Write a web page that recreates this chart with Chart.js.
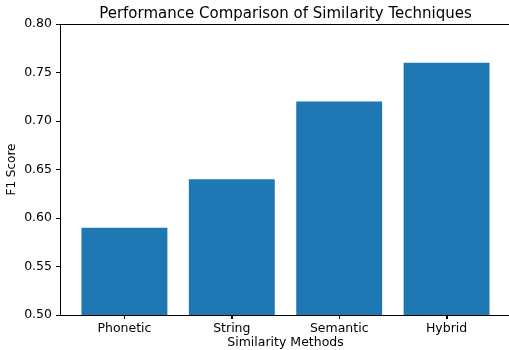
<!DOCTYPE html>
<html>
<head>
<meta charset="utf-8">
<script src="https://cdn.jsdelivr.net/npm/chart.js@4"></script>
<style>
  html, body { margin: 0; padding: 0; background: #fff; overflow: hidden; }
  #wrap { width: 512px; height: 350px; }
</style>
</head>
<body>
<div id="wrap"><canvas id="chart"></canvas></div>
<script>
// Données du graphique
const methods = ['Phonetic', 'String', 'Semantic', 'Hybrid'];
const f1Scores = [0.59, 0.64, 0.72, 0.76];
const yTicks = [0.50, 0.55, 0.60, 0.65, 0.70, 0.75, 0.80];

const FONT = "'DejaVu Sans', sans-serif";

// Cadre façon matplotlib (axe du haut, graduations x) + titre centré sur la zone de tracé
const framePlugin = {
    id: 'frame',
    afterDraw(chart) {
        const { ctx, chartArea: a } = chart;
        const xScale = chart.scales.x;
        ctx.save();
        ctx.strokeStyle = '#000';
        ctx.lineWidth = 1;
        ctx.beginPath();
        ctx.moveTo(a.left, a.top + 0.5);
        ctx.lineTo(a.right, a.top + 0.5);
        ctx.stroke();
        ctx.fillStyle = '#000';
        methods.forEach((m, i) => {
            const px = Math.round(xScale.getPixelForValue(i));
            ctx.fillRect(px, a.bottom, 1, 4);
        });
        ctx.font = '15px ' + FONT;
        ctx.textAlign = 'center';
        ctx.textBaseline = 'alphabetic';
        ctx.fillText('Performance Comparison of Similarity Techniques', (a.left + a.right) / 2, a.top - 6);
        ctx.restore();
    }
};

new Chart(document.getElementById('chart'), {
    type: 'bar',
    data: {
        datasets: [{
            data: f1Scores.map((v, i) => ({ x: i, y: v })),
            backgroundColor: '#1f77b4',
            borderWidth: 0,
            categoryPercentage: 0.8,
            barPercentage: 1.0
        }]
    },
    options: {
        responsive: true,
        maintainAspectRatio: false,
        animation: false,
        layout: { padding: { top: 24, right: 1, left: 0, bottom: 0 } },
        plugins: {
            legend: { display: false },
            tooltip: { enabled: false }
        },
        scales: {
            x: {
                type: 'linear',
                offset: false,
                min: -0.6,
                max: 3.6,
                afterBuildTicks: (scale) => {
                    scale.ticks = methods.map((m, i) => ({ value: i }));
                },
                afterFit: (scale) => { scale.height = 35; },
                grid: { offset: false, drawOnChartArea: false, tickLength: 4, tickColor: '#000' },
                border: { color: '#000', width: 1 },
                ticks: {
                    callback: (v) => methods[v] ?? '',
                    color: '#000',
                    font: { family: FONT, size: 12.5 },
                    padding: 2,
                    maxRotation: 0
                },
                title: {
                    display: true,
                    text: 'Similarity Methods',
                    color: '#000',
                    font: { family: FONT, size: 12.5 },
                    padding: { top: 0, bottom: 0 }
                }
            },
            y: {
                min: 0.5,
                max: 0.8,
                afterBuildTicks: (scale) => {
                    scale.ticks = yTicks.map(v => ({ value: v }));
                },
                afterFit: (scale) => { scale.width = 60; },
                grid: { drawOnChartArea: false, tickLength: 4, tickColor: '#000' },
                border: { color: '#000', width: 1 },
                ticks: {
                    callback: (v) => v.toFixed(2),
                    color: '#000',
                    font: { family: FONT, size: 12.5 },
                    padding: 4
                },
                title: {
                    display: true,
                    text: 'F1 Score',
                    color: '#000',
                    font: { family: FONT, size: 12 },
                    padding: { top: 5, bottom: 0 }
                }
            }
        }
    },
    plugins: [framePlugin]
});
</script>
</body>
</html>
